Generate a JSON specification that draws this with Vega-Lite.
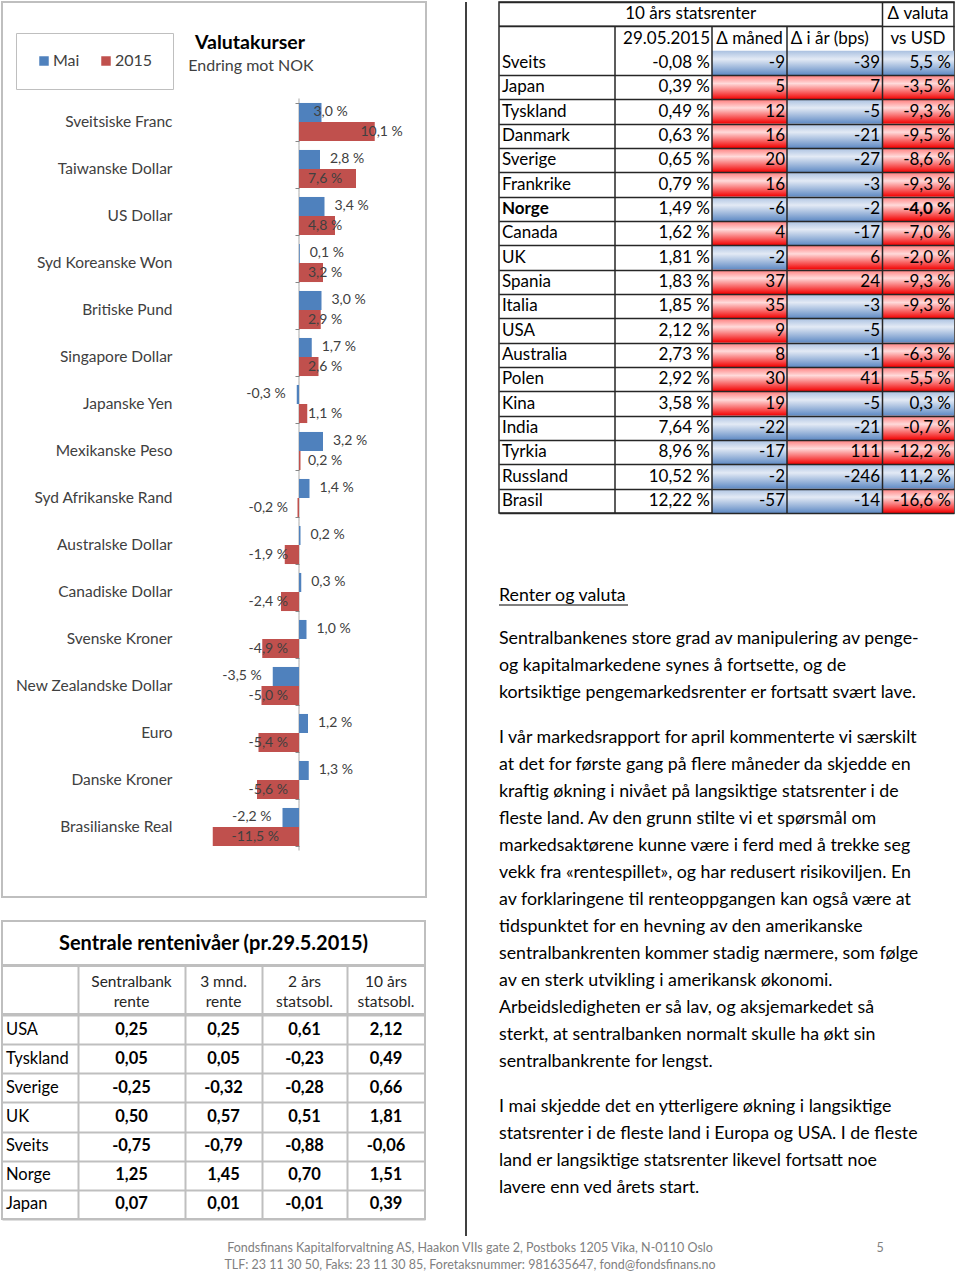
{
  "$schema": "https://vega.github.io/schema/vega-lite/v6.json",
  "padding": {"left": 1, "top": -6, "right": 0, "bottom": 0},
  "background": "#ffffff",
  "config": {
    "font": "Lato",
    "view": {"stroke": null},
    "locale": {"number": {"decimal": ",", "thousands": " ", "grouping": [3], "currency": ["", " kr"], "minus": "-", "percent": " %"}}
  },
  "spacing": 0,
  "vconcat": [
    {
      "spacing": 30,
      "hconcat": [
        {
          "spacing": 22,
          "vconcat": [
            {
              "width": 424,
              "height": 895,
              "view": {"stroke": "#bfbfbf", "strokeWidth": 2},
              "data": {"values": [
                {"c": "Sveitsiske Franc", "s": "Mai", "v": 0.030}, {"c": "Sveitsiske Franc", "s": "2015", "v": 0.101},
                {"c": "Taiwanske Dollar", "s": "Mai", "v": 0.028}, {"c": "Taiwanske Dollar", "s": "2015", "v": 0.076},
                {"c": "US Dollar", "s": "Mai", "v": 0.034}, {"c": "US Dollar", "s": "2015", "v": 0.048},
                {"c": "Syd Koreanske Won", "s": "Mai", "v": 0.001}, {"c": "Syd Koreanske Won", "s": "2015", "v": 0.032},
                {"c": "Britiske Pund", "s": "Mai", "v": 0.030}, {"c": "Britiske Pund", "s": "2015", "v": 0.029},
                {"c": "Singapore Dollar", "s": "Mai", "v": 0.017}, {"c": "Singapore Dollar", "s": "2015", "v": 0.026},
                {"c": "Japanske Yen", "s": "Mai", "v": -0.003}, {"c": "Japanske Yen", "s": "2015", "v": 0.011},
                {"c": "Mexikanske Peso", "s": "Mai", "v": 0.032}, {"c": "Mexikanske Peso", "s": "2015", "v": 0.002},
                {"c": "Syd Afrikanske Rand", "s": "Mai", "v": 0.014}, {"c": "Syd Afrikanske Rand", "s": "2015", "v": -0.002},
                {"c": "Australske Dollar", "s": "Mai", "v": 0.002}, {"c": "Australske Dollar", "s": "2015", "v": -0.019},
                {"c": "Canadiske Dollar", "s": "Mai", "v": 0.003}, {"c": "Canadiske Dollar", "s": "2015", "v": -0.024},
                {"c": "Svenske Kroner", "s": "Mai", "v": 0.010}, {"c": "Svenske Kroner", "s": "2015", "v": -0.049},
                {"c": "New Zealandske Dollar", "s": "Mai", "v": -0.035}, {"c": "New Zealandske Dollar", "s": "2015", "v": -0.050},
                {"c": "Euro", "s": "Mai", "v": 0.012}, {"c": "Euro", "s": "2015", "v": -0.054},
                {"c": "Danske Kroner", "s": "Mai", "v": 0.013}, {"c": "Danske Kroner", "s": "2015", "v": -0.056},
                {"c": "Brasilianske Real", "s": "Mai", "v": -0.022}, {"c": "Brasilianske Real", "s": "2015", "v": -0.115}
              ]},
              "encoding": {
                "y": {"field": "c", "type": "nominal", "sort": null, "title": null,
                  "scale": {"domain": ["_a", "_b", "Sveitsiske Franc", "Taiwanske Dollar", "US Dollar", "Syd Koreanske Won", "Britiske Pund", "Singapore Dollar", "Japanske Yen", "Mexikanske Peso", "Syd Afrikanske Rand", "Australske Dollar", "Canadiske Dollar", "Svenske Kroner", "New Zealandske Dollar", "Euro", "Danske Kroner", "Brasilianske Real"], "paddingInner": 0.19, "paddingOuter": 0.6163, "align": 0.1202},
                  "axis": {"values": ["Sveitsiske Franc", "Taiwanske Dollar", "US Dollar", "Syd Koreanske Won", "Britiske Pund", "Singapore Dollar", "Japanske Yen", "Mexikanske Peso", "Syd Afrikanske Rand", "Australske Dollar", "Canadiske Dollar", "Svenske Kroner", "New Zealandske Dollar", "Euro", "Danske Kroner", "Brasilianske Real"], "orient": "left", "offset": -297, "domain": false, "ticks": true, "tickBand": "extent", "tickSize": 4, "tickColor": "#868686", "tickWidth": 1, "labelPadding": 123, "labelFontSize": 15.5, "labelColor": "#404040", "labelLimit": 300, "grid": false, "title": null}}
              },
              "layer": [
                {
                  "transform": [{"filter": "datum.s == 'Mai'"}],
                  "mark": {"type": "tick", "orient": "vertical", "size": 47, "thickness": 1, "color": "#868686"},
                  "encoding": {"x": {"datum": 0, "type": "quantitative", "scale": {"domain": [-0.396, 0.16933], "nice": false, "zero": false}, "axis": null}}
                },
                {
                  "mark": {"type": "bar"},
                  "encoding": {
                    "x": {"field": "v", "type": "quantitative", "scale": {"domain": [-0.396, 0.16933], "nice": false, "zero": false}, "axis": null},
                    "yOffset": {"field": "s", "type": "nominal", "sort": null, "scale": {"domain": ["Mai", "2015"], "paddingInner": 0, "paddingOuter": 0}},
                    "color": {"field": "s", "type": "nominal", "scale": {"domain": ["Mai", "2015"], "range": ["#4F81BD", "#C0504D"]},
                      "legend": {"orient": "none", "legendX": 14, "legendY": 31, "direction": "horizontal", "title": null, "symbolType": "square", "symbolSize": 90, "symbolStrokeWidth": 0, "labelFontSize": 16, "labelColor": "#404040", "strokeColor": "#bfbfbf", "fillColor": "#ffffff", "padding": 20, "columnPadding": 18, "labelOffset": 1}}
                  }
                },
                {
                  "transform": [{"filter": "datum.s == 'Mai'"}],
                  "mark": {"type": "text", "fontSize": 14, "color": "#404040", "baseline": "middle",
                    "align": {"expr": "datum.v >= 0 ? 'left' : 'right'"},
                    "dx": {"expr": "datum.c == 'Sveitsiske Franc' ? -8 : (datum.v >= 0 ? 10 : -11)"}},
                  "encoding": {
                    "x": {"field": "v", "type": "quantitative", "scale": {"domain": [-0.396, 0.16933], "nice": false, "zero": false}, "axis": null},
                    "yOffset": {"field": "s", "type": "nominal", "sort": null, "scale": {"domain": ["Mai", "2015"], "paddingInner": 0, "paddingOuter": 0}},
                    "text": {"field": "v", "type": "quantitative", "format": ".1%"}
                  }
                },
                {
                  "transform": [{"filter": "datum.s == '2015' && datum.v < 0.1"}],
                  "mark": {"type": "text", "fontSize": 14, "color": "#404040", "baseline": "middle",
                    "align": {"expr": "datum.v >= 0 ? 'left' : 'right'"},
                    "dx": {"expr": "datum.v >= 0 ? 9 : (datum.v <= -0.1 ? -20 : -11)"}},
                  "encoding": {
                    "x": {"datum": 0, "type": "quantitative", "scale": {"domain": [-0.396, 0.16933], "nice": false, "zero": false}, "axis": null},
                    "yOffset": {"field": "s", "type": "nominal", "sort": null, "scale": {"domain": ["Mai", "2015"], "paddingInner": 0, "paddingOuter": 0}},
                    "text": {"field": "v", "type": "quantitative", "format": ".1%"}
                  }
                },
                {
                  "transform": [{"filter": "datum.s == '2015' && datum.v >= 0.1"}],
                  "mark": {"type": "text", "fontSize": 14, "color": "#404040", "baseline": "middle", "align": "right", "dx": 28},
                  "encoding": {
                    "x": {"field": "v", "type": "quantitative", "scale": {"domain": [-0.396, 0.16933], "nice": false, "zero": false}, "axis": null},
                    "yOffset": {"field": "s", "type": "nominal", "sort": null, "scale": {"domain": ["Mai", "2015"], "paddingInner": 0, "paddingOuter": 0}},
                    "text": {"field": "v", "type": "quantitative", "format": ".1%"}
                  }
                },
                {
                  "data": {"values": [{"t": "Valutakurser"}]},
                  "mark": {"type": "text", "fontSize": 19.5, "fontWeight": "bold", "color": "#000000", "baseline": "middle", "align": "center", "dx": -49, "dy": 15},
                  "encoding": {
                    "x": {"datum": 0, "type": "quantitative", "scale": {"domain": [-0.396, 0.16933], "nice": false, "zero": false}, "axis": null},
                    "y": {"datum": "_a", "type": "nominal"},
                    "text": {"field": "t"}
                  }
                },
                {
                  "data": {"values": [{"t": "Endring mot NOK"}]},
                  "mark": {"type": "text", "fontSize": 16, "color": "#404040", "baseline": "middle", "align": "center", "dx": -48, "dy": -9},
                  "encoding": {
                    "x": {"datum": 0, "type": "quantitative", "scale": {"domain": [-0.396, 0.16933], "nice": false, "zero": false}, "axis": null},
                    "y": {"datum": "_b", "type": "nominal"},
                    "text": {"field": "t"}
                  }
                }
              ]
            },
            {
              "spacing": -2,
              "vconcat": [
                {
                  "width": 423,
                  "height": 44,
                  "view": {"stroke": "#bfbfbf", "strokeWidth": 2},
                  "data": {"values": [{"t": "Sentrale rentenivåer (pr.29.5.2015)"}]},
                  "mark": {"type": "text", "fontSize": 20, "fontWeight": "bold", "color": "#000000", "dy": 1},
                  "encoding": {"text": {"field": "t", "type": "nominal"}}
                },
                {
                  "width": 423,
                  "height": 48,
                  "view": {"stroke": "#bfbfbf", "strokeWidth": 2},
                  "data": {"values": [{"a": ["Sentralbank", "rente"], "b": ["3 mnd.", "rente"], "c": ["2 års", "statsobl."], "d": ["10 års", "statsobl."]}]},
                  "layer": [
                    {
                      "mark": {"type": "text", "fontSize": 15.5, "color": "#262626", "lineHeight": 20, "baseline": "middle", "dy": -8},
                      "encoding": {"x": {"datum": 1.5, "type": "quantitative", "scale": {"domain": [0, 1, 2, 3, 4, 5], "range": [0, 76, 183, 260, 345, 423], "nice": false, "zero": false},
                        "axis": {"values": [1, 2, 3, 4], "grid": true, "gridColor": "#bfbfbf", "gridWidth": 2, "labels": false, "ticks": false, "domain": false, "title": null}},
                        "text": {"field": "a"}}
                    },
                    {
                      "mark": {"type": "text", "fontSize": 15.5, "color": "#262626", "lineHeight": 20, "baseline": "middle", "dy": -8},
                      "encoding": {"x": {"datum": 2.5, "type": "quantitative", "scale": {"domain": [0, 1, 2, 3, 4, 5], "range": [0, 76, 183, 260, 345, 423], "nice": false, "zero": false}}, "text": {"field": "b"}}
                    },
                    {
                      "mark": {"type": "text", "fontSize": 15.5, "color": "#262626", "lineHeight": 20, "baseline": "middle", "dy": -8},
                      "encoding": {"x": {"datum": 3.5, "type": "quantitative", "scale": {"domain": [0, 1, 2, 3, 4, 5], "range": [0, 76, 183, 260, 345, 423], "nice": false, "zero": false}}, "text": {"field": "c"}}
                    },
                    {
                      "mark": {"type": "text", "fontSize": 15.5, "color": "#262626", "lineHeight": 20, "baseline": "middle", "dy": -8},
                      "encoding": {"x": {"datum": 4.5, "type": "quantitative", "scale": {"domain": [0, 1, 2, 3, 4, 5], "range": [0, 76, 183, 260, 345, 423], "nice": false, "zero": false}}, "text": {"field": "d"}}
                    }
                  ]
                },
                {
                  "width": 423,
                  "height": 204,
                  "view": {"stroke": "#bfbfbf", "strokeWidth": 2},
                  "data": {"values": [
                    {"land": "USA", "sb": 0.25, "m3": 0.25, "y2": 0.61, "y10": 2.12},
                    {"land": "Tyskland", "sb": 0.05, "m3": 0.05, "y2": -0.23, "y10": 0.49},
                    {"land": "Sverige", "sb": -0.25, "m3": -0.32, "y2": -0.28, "y10": 0.66},
                    {"land": "UK", "sb": 0.50, "m3": 0.57, "y2": 0.51, "y10": 1.81},
                    {"land": "Sveits", "sb": -0.75, "m3": -0.79, "y2": -0.88, "y10": -0.06},
                    {"land": "Norge", "sb": 1.25, "m3": 1.45, "y2": 0.70, "y10": 1.51},
                    {"land": "Japan", "sb": 0.07, "m3": 0.01, "y2": -0.01, "y10": 0.39}
                  ]},
                  "encoding": {
                    "y": {"field": "land", "type": "nominal", "sort": null, "scale": {"paddingInner": 0, "paddingOuter": 0},
                      "axis": {"grid": true, "tickBand": "extent", "labels": false, "ticks": false, "domain": false, "gridColor": "#bfbfbf", "gridWidth": 2, "title": null}}
                  },
                  "layer": [
                    {
                      "mark": {"type": "text", "fontSize": 16.5, "color": "#000000", "align": "left", "dx": 4, "baseline": "middle"},
                      "encoding": {"x": {"datum": 0, "type": "quantitative", "scale": {"domain": [0, 1, 2, 3, 4, 5], "range": [0, 76, 183, 260, 345, 423], "nice": false, "zero": false},
                        "axis": {"values": [1, 2, 3, 4], "grid": true, "gridColor": "#bfbfbf", "gridWidth": 2, "labels": false, "ticks": false, "domain": false, "title": null}},
                        "text": {"field": "land"}}
                    },
                    {
                      "mark": {"type": "text", "fontSize": 16.5, "fontWeight": "bold", "color": "#000000", "baseline": "middle"},
                      "encoding": {"x": {"datum": 1.5, "type": "quantitative", "scale": {"domain": [0, 1, 2, 3, 4, 5], "range": [0, 76, 183, 260, 345, 423], "nice": false, "zero": false}}, "text": {"field": "sb", "type": "quantitative", "format": ".2f"}}
                    },
                    {
                      "mark": {"type": "text", "fontSize": 16.5, "fontWeight": "bold", "color": "#000000", "baseline": "middle"},
                      "encoding": {"x": {"datum": 2.5, "type": "quantitative", "scale": {"domain": [0, 1, 2, 3, 4, 5], "range": [0, 76, 183, 260, 345, 423], "nice": false, "zero": false}}, "text": {"field": "m3", "type": "quantitative", "format": ".2f"}}
                    },
                    {
                      "mark": {"type": "text", "fontSize": 16.5, "fontWeight": "bold", "color": "#000000", "baseline": "middle"},
                      "encoding": {"x": {"datum": 3.5, "type": "quantitative", "scale": {"domain": [0, 1, 2, 3, 4, 5], "range": [0, 76, 183, 260, 345, 423], "nice": false, "zero": false}}, "text": {"field": "y2", "type": "quantitative", "format": ".2f"}}
                    },
                    {
                      "mark": {"type": "text", "fontSize": 16.5, "fontWeight": "bold", "color": "#000000", "baseline": "middle"},
                      "encoding": {"x": {"datum": 4.5, "type": "quantitative", "scale": {"domain": [0, 1, 2, 3, 4, 5], "range": [0, 76, 183, 260, 345, 423], "nice": false, "zero": false}}, "text": {"field": "y10", "type": "quantitative", "format": ".2f"}}
                    }
                  ]
                }
              ]
            }
          ]
        },
        {
          "width": 9,
          "height": 1234,
          "data": {"values": [{}]},
          "mark": {"type": "rule", "color": "#404040", "strokeWidth": 2},
          "encoding": {"x": {"datum": 1, "type": "quantitative", "scale": {"domain": [0, 1], "nice": false}, "axis": null}}
        },
        {
          "spacing": 57,
          "vconcat": [
            {
              "width": 455,
              "height": 511,
              "view": {"stroke": "#262626", "strokeWidth": 1.5},
              "data": {"values": [
                {"land": "Sveits", "rate": -0.0008, "mnd": -9, "aar": -39, "val": 0.055},
                {"land": "Japan", "rate": 0.0039, "mnd": 5, "aar": 7, "val": -0.035},
                {"land": "Tyskland", "rate": 0.0049, "mnd": 12, "aar": -5, "val": -0.093},
                {"land": "Danmark", "rate": 0.0063, "mnd": 16, "aar": -21, "val": -0.095},
                {"land": "Sverige", "rate": 0.0065, "mnd": 20, "aar": -27, "val": -0.086},
                {"land": "Frankrike", "rate": 0.0079, "mnd": 16, "aar": -3, "val": -0.093},
                {"land": "Norge", "rate": 0.0149, "mnd": -6, "aar": -2, "val": -0.040},
                {"land": "Canada", "rate": 0.0162, "mnd": 4, "aar": -17, "val": -0.070},
                {"land": "UK", "rate": 0.0181, "mnd": -2, "aar": 6, "val": -0.020},
                {"land": "Spania", "rate": 0.0183, "mnd": 37, "aar": 24, "val": -0.093},
                {"land": "Italia", "rate": 0.0185, "mnd": 35, "aar": -3, "val": -0.093},
                {"land": "USA", "rate": 0.0212, "mnd": 9, "aar": -5, "val": null},
                {"land": "Australia", "rate": 0.0273, "mnd": 8, "aar": -1, "val": -0.063},
                {"land": "Polen", "rate": 0.0292, "mnd": 30, "aar": 41, "val": -0.055},
                {"land": "Kina", "rate": 0.0358, "mnd": 19, "aar": -5, "val": 0.003},
                {"land": "India", "rate": 0.0764, "mnd": -22, "aar": -21, "val": -0.007},
                {"land": "Tyrkia", "rate": 0.0896, "mnd": -17, "aar": 111, "val": -0.122},
                {"land": "Russland", "rate": 0.1052, "mnd": -2, "aar": -246, "val": 0.112},
                {"land": "Brasil", "rate": 0.1222, "mnd": -57, "aar": -14, "val": -0.166}
              ]},
              "encoding": {
                "y": {"field": "land", "type": "nominal",
                  "scale": {"domain": ["h1", "h2", "Sveits", "Japan", "Tyskland", "Danmark", "Sverige", "Frankrike", "Norge", "Canada", "UK", "Spania", "Italia", "USA", "Australia", "Polen", "Kina", "India", "Tyrkia", "Russland", "Brasil"], "paddingInner": 0, "paddingOuter": 0},
                  "axis": {"values": ["h1", "Sveits", "Japan", "Tyskland", "Danmark", "Sverige", "Frankrike", "Norge", "Canada", "UK", "Spania", "Italia", "USA", "Australia", "Polen", "Kina", "India", "Tyrkia", "Russland", "Brasil"], "grid": true, "tickBand": "extent", "labels": false, "ticks": false, "domain": false, "gridColor": "#262626", "gridWidth": 1.5, "zindex": 1, "title": null}}
              },
              "layer": [
                {
                  "mark": {"type": "rect"},
                  "encoding": {
                    "x": {"datum": 2, "type": "quantitative", "scale": {"domain": [0, 1, 2, 3, 4, 5], "range": [0, 116, 213, 288, 383, 455], "nice": false, "zero": false},
                      "axis": {"values": [4], "grid": true, "gridColor": "#262626", "gridWidth": 1.5, "labels": false, "ticks": false, "domain": false, "zindex": 1, "title": null}},
                    "x2": {"datum": 3},
                    "fill": {"condition": {"test": "datum.mnd < 0", "value": {"gradient": "linear", "x1": 0, "y1": 0, "x2": 0, "y2": 1, "stops": [{"offset": 0, "color": "#a9c0e0"}, {"offset": 0.35, "color": "#e3eaf5"}, {"offset": 1, "color": "#5f8ac4"}]}},
                      "value": {"gradient": "linear", "x1": 0, "y1": 0, "x2": 0, "y2": 1, "stops": [{"offset": 0, "color": "#ff7a7a"}, {"offset": 0.35, "color": "#ffdada"}, {"offset": 1, "color": "#f20000"}]}}
                  }
                },
                {
                  "mark": {"type": "rect"},
                  "encoding": {
                    "x": {"datum": 3, "type": "quantitative", "scale": {"domain": [0, 1, 2, 3, 4, 5], "range": [0, 116, 213, 288, 383, 455], "nice": false, "zero": false}},
                    "x2": {"datum": 4},
                    "fill": {"condition": {"test": "datum.aar < 0", "value": {"gradient": "linear", "x1": 0, "y1": 0, "x2": 0, "y2": 1, "stops": [{"offset": 0, "color": "#a9c0e0"}, {"offset": 0.35, "color": "#e3eaf5"}, {"offset": 1, "color": "#5f8ac4"}]}},
                      "value": {"gradient": "linear", "x1": 0, "y1": 0, "x2": 0, "y2": 1, "stops": [{"offset": 0, "color": "#ff7a7a"}, {"offset": 0.35, "color": "#ffdada"}, {"offset": 1, "color": "#f20000"}]}}
                  }
                },
                {
                  "mark": {"type": "rect"},
                  "encoding": {
                    "x": {"datum": 4, "type": "quantitative", "scale": {"domain": [0, 1, 2, 3, 4, 5], "range": [0, 116, 213, 288, 383, 455], "nice": false, "zero": false}},
                    "x2": {"datum": 5},
                    "fill": {"condition": {"test": "datum.val === null || datum.val >= 0", "value": {"gradient": "linear", "x1": 0, "y1": 0, "x2": 0, "y2": 1, "stops": [{"offset": 0, "color": "#a9c0e0"}, {"offset": 0.35, "color": "#e3eaf5"}, {"offset": 1, "color": "#5f8ac4"}]}},
                      "value": {"gradient": "linear", "x1": 0, "y1": 0, "x2": 0, "y2": 1, "stops": [{"offset": 0, "color": "#ff7a7a"}, {"offset": 0.35, "color": "#ffdada"}, {"offset": 1, "color": "#f20000"}]}}
                  }
                },
                {
                  "data": {"values": [{}]},
                  "mark": {"type": "rule", "color": "#262626", "strokeWidth": 1.5},
                  "encoding": {
                    "x": {"datum": 1, "type": "quantitative", "scale": {"domain": [0, 1, 2, 3, 4, 5], "range": [0, 116, 213, 288, 383, 455], "nice": false, "zero": false}},
                    "y": {"datum": "h2", "type": "nominal", "bandPosition": 0},
                    "y2": {"datum": "Brasil", "bandPosition": 1}
                  }
                },
                {
                  "data": {"values": [{}]},
                  "mark": {"type": "rule", "color": "#262626", "strokeWidth": 1.5},
                  "encoding": {
                    "x": {"datum": 2, "type": "quantitative", "scale": {"domain": [0, 1, 2, 3, 4, 5], "range": [0, 116, 213, 288, 383, 455], "nice": false, "zero": false}},
                    "y": {"datum": "h2", "type": "nominal", "bandPosition": 0},
                    "y2": {"datum": "Brasil", "bandPosition": 1}
                  }
                },
                {
                  "data": {"values": [{}]},
                  "mark": {"type": "rule", "color": "#262626", "strokeWidth": 1.5},
                  "encoding": {
                    "x": {"datum": 3, "type": "quantitative", "scale": {"domain": [0, 1, 2, 3, 4, 5], "range": [0, 116, 213, 288, 383, 455], "nice": false, "zero": false}},
                    "y": {"datum": "h2", "type": "nominal", "bandPosition": 0},
                    "y2": {"datum": "Brasil", "bandPosition": 1}
                  }
                },
                {
                  "data": {"values": [{}]},
                  "mark": {"type": "rule", "color": "#262626", "strokeWidth": 1.5},
                  "encoding": {
                    "x": {"datum": 0, "type": "quantitative", "scale": {"domain": [0, 1, 2, 3, 4, 5], "range": [0, 116, 213, 288, 383, 455], "nice": false, "zero": false}},
                    "x2": {"datum": 4},
                    "y": {"datum": "h2", "type": "nominal", "bandPosition": 0}
                  }
                },
                {
                  "mark": {"type": "text", "fontSize": 17, "color": "#000000", "align": "left", "dx": 3, "baseline": "middle", "fontWeight": {"expr": "datum.land == 'Norge' ? 'bold' : 'normal'"}},
                  "encoding": {"x": {"datum": 0, "type": "quantitative", "scale": {"domain": [0, 1, 2, 3, 4, 5], "range": [0, 116, 213, 288, 383, 455], "nice": false, "zero": false}}, "text": {"field": "land"}}
                },
                {
                  "mark": {"type": "text", "fontSize": 17, "color": "#000000", "align": "right", "dx": -2, "baseline": "middle"},
                  "encoding": {"x": {"datum": 2, "type": "quantitative", "scale": {"domain": [0, 1, 2, 3, 4, 5], "range": [0, 116, 213, 288, 383, 455], "nice": false, "zero": false}}, "text": {"field": "rate", "type": "quantitative", "format": ".2%"}}
                },
                {
                  "mark": {"type": "text", "fontSize": 17, "color": "#000000", "align": "right", "dx": -2, "baseline": "middle"},
                  "encoding": {"x": {"datum": 3, "type": "quantitative", "scale": {"domain": [0, 1, 2, 3, 4, 5], "range": [0, 116, 213, 288, 383, 455], "nice": false, "zero": false}}, "text": {"field": "mnd", "type": "quantitative", "format": "d"}}
                },
                {
                  "mark": {"type": "text", "fontSize": 17, "color": "#000000", "align": "right", "dx": -2, "baseline": "middle"},
                  "encoding": {"x": {"datum": 4, "type": "quantitative", "scale": {"domain": [0, 1, 2, 3, 4, 5], "range": [0, 116, 213, 288, 383, 455], "nice": false, "zero": false}}, "text": {"field": "aar", "type": "quantitative", "format": "d"}}
                },
                {
                  "transform": [{"filter": "datum.val !== null"}],
                  "mark": {"type": "text", "fontSize": 17, "color": "#000000", "align": "right", "dx": -3, "baseline": "middle", "fontWeight": {"expr": "datum.land == 'Norge' ? 'bold' : 'normal'"}},
                  "encoding": {"x": {"datum": 5, "type": "quantitative", "scale": {"domain": [0, 1, 2, 3, 4, 5], "range": [0, 116, 213, 288, 383, 455], "nice": false, "zero": false}}, "text": {"field": "val", "type": "quantitative", "format": ".1%"}}
                },
                {
                  "data": {"values": [{"t": "10 års statsrenter"}]},
                  "mark": {"type": "text", "fontSize": 17, "color": "#000000", "align": "center", "baseline": "middle"},
                  "encoding": {"x": {"datum": 1.78, "type": "quantitative", "scale": {"domain": [0, 1, 2, 3, 4, 5], "range": [0, 116, 213, 288, 383, 455], "nice": false, "zero": false}}, "y": {"datum": "h1", "type": "nominal"}, "text": {"field": "t"}}
                },
                {
                  "data": {"values": [{"t": "Δ valuta"}]},
                  "mark": {"type": "text", "fontSize": 17, "color": "#000000", "align": "center", "baseline": "middle"},
                  "encoding": {"x": {"datum": 4.5, "type": "quantitative", "scale": {"domain": [0, 1, 2, 3, 4, 5], "range": [0, 116, 213, 288, 383, 455], "nice": false, "zero": false}}, "y": {"datum": "h1", "type": "nominal"}, "text": {"field": "t"}}
                },
                {
                  "data": {"values": [{"t": "vs USD"}]},
                  "mark": {"type": "text", "fontSize": 17, "color": "#000000", "align": "center", "baseline": "middle"},
                  "encoding": {"x": {"datum": 4.5, "type": "quantitative", "scale": {"domain": [0, 1, 2, 3, 4, 5], "range": [0, 116, 213, 288, 383, 455], "nice": false, "zero": false}}, "y": {"datum": "h2", "type": "nominal"}, "text": {"field": "t"}}
                },
                {
                  "data": {"values": [{"t": "29.05.2015"}]},
                  "mark": {"type": "text", "fontSize": 17, "color": "#000000", "align": "right", "dx": -2, "baseline": "middle"},
                  "encoding": {"x": {"datum": 2, "type": "quantitative", "scale": {"domain": [0, 1, 2, 3, 4, 5], "range": [0, 116, 213, 288, 383, 455], "nice": false, "zero": false}}, "y": {"datum": "h2", "type": "nominal"}, "text": {"field": "t"}}
                },
                {
                  "data": {"values": [{"t": "Δ måned"}]},
                  "mark": {"type": "text", "fontSize": 17, "color": "#000000", "align": "center", "baseline": "middle"},
                  "encoding": {"x": {"datum": 2.5, "type": "quantitative", "scale": {"domain": [0, 1, 2, 3, 4, 5], "range": [0, 116, 213, 288, 383, 455], "nice": false, "zero": false}}, "y": {"datum": "h2", "type": "nominal"}, "text": {"field": "t"}}
                },
                {
                  "data": {"values": [{"t": "Δ i år (bps)"}]},
                  "mark": {"type": "text", "fontSize": 17, "color": "#000000", "align": "center", "baseline": "middle"},
                  "encoding": {"x": {"datum": 3.45, "type": "quantitative", "scale": {"domain": [0, 1, 2, 3, 4, 5], "range": [0, 116, 213, 288, 383, 455], "nice": false, "zero": false}}, "y": {"datum": "h2", "type": "nominal"}, "text": {"field": "t"}}
                }
              ]
            },
            {
              "width": 460,
              "height": 640,
              "data": {"values": [
                {"n": 0, "t": "Renter og valuta"},
                {"n": 1, "t": "Sentralbankenes store grad av manipulering av penge-"},
                {"n": 2, "t": "og kapitalmarkedene synes å fortsette, og de"},
                {"n": 3, "t": "kortsiktige pengemarkedsrenter er fortsatt svært lave."},
                {"n": 4, "t": "I vår markedsrapport for april kommenterte vi særskilt"},
                {"n": 5, "t": "at det for første gang på flere måneder da skjedde en"},
                {"n": 6, "t": "kraftig økning i nivået på langsiktige statsrenter i de"},
                {"n": 7, "t": "fleste land. Av den grunn stilte vi et spørsmål om"},
                {"n": 8, "t": "markedsaktørene kunne være i ferd med å trekke seg"},
                {"n": 9, "t": "vekk fra «rentespillet», og har redusert risikoviljen. En"},
                {"n": 10, "t": "av forklaringene til renteoppgangen kan også være at"},
                {"n": 11, "t": "tidspunktet for en hevning av den amerikanske"},
                {"n": 12, "t": "sentralbankrenten kommer stadig nærmere, som følge"},
                {"n": 13, "t": "av en sterk utvikling i amerikansk økonomi."},
                {"n": 14, "t": "Arbeidsledigheten er så lav, og aksjemarkedet så"},
                {"n": 15, "t": "sterkt, at sentralbanken normalt skulle ha økt sin"},
                {"n": 16, "t": "sentralbankrente for lengst."},
                {"n": 17, "t": "I mai skjedde det en ytterligere økning i langsiktige"},
                {"n": 18, "t": "statsrenter i de fleste land i Europa og USA. I de fleste"},
                {"n": 19, "t": "land er langsiktige statsrenter likevel fortsatt noe"},
                {"n": 20, "t": "lavere enn ved årets start."}
              ]},
              "layer": [
                {
                  "mark": {"type": "text", "align": "left", "baseline": "middle", "fontSize": 17.8, "color": "#000000"},
                  "encoding": {
                    "x": {"value": 0},
                    "y": {"field": "n", "type": "quantitative", "scale": {"domain": [0, 1, 3, 4, 16, 17, 20], "range": [24, 67, 121, 166, 490, 535, 616], "nice": false, "zero": false}, "axis": null},
                    "text": {"field": "t"}
                  }
                },
                {
                  "transform": [{"filter": "datum.n == 0"}],
                  "mark": {"type": "rule", "color": "#000000", "strokeWidth": 1, "yOffset": 9},
                  "encoding": {
                    "x": {"value": 0},
                    "x2": {"value": 129},
                    "y": {"field": "n", "type": "quantitative", "scale": {"domain": [0, 1, 3, 4, 16, 17, 20], "range": [24, 67, 121, 166, 490, 535, 616], "nice": false, "zero": false}, "axis": null}
                  }
                }
              ]
            }
          ]
        }
      ]
    },
    {
      "width": 956,
      "height": 34,
      "data": {"values": [{"a": ["Fondsfinans Kapitalforvaltning AS, Haakon VIIs gate 2, Postboks 1205 Vika, N-0110 Oslo", "TLF: 23 11 30 50, Faks: 23 11 30 85, Foretaksnummer: 981635647, fond@fondsfinans.no"], "p": "5"}]},
      "layer": [
        {
          "mark": {"type": "text", "fontSize": 12.5, "color": "#7f7f7f", "lineHeight": 17, "baseline": "middle", "dx": -10, "dy": -6.5},
          "encoding": {"text": {"field": "a"}}
        },
        {
          "mark": {"type": "text", "fontSize": 12.5, "color": "#7f7f7f", "baseline": "middle", "dx": 400, "dy": -6.5},
          "encoding": {"text": {"field": "p"}}
        }
      ]
    }
  ]
}
